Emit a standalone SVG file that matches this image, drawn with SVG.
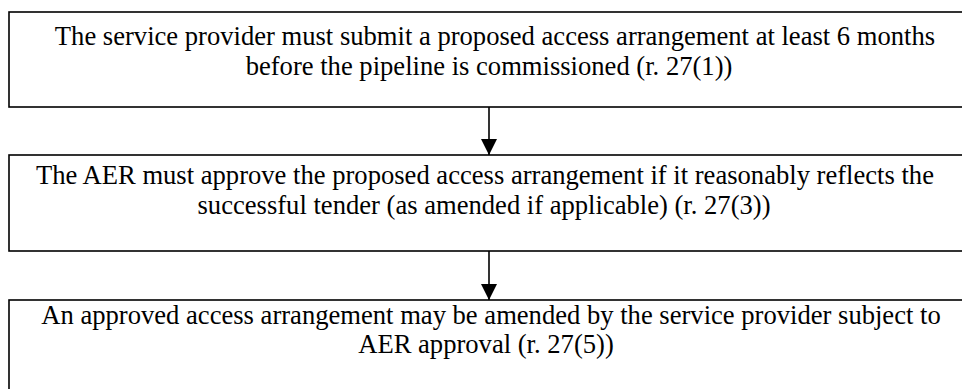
<svg xmlns="http://www.w3.org/2000/svg" width="962" height="389" viewBox="0 0 962 389">
  <style>
    .box { fill: #ffffff; stroke: #000000; stroke-width: 1.6; }
    .lbl { font-family: "Liberation Serif", Tinos, "Times New Roman", Times, "DejaVu Serif", serif; font-size: 26.6px; fill: #000000; text-anchor: middle; }
    .edge { stroke: #000000; stroke-width: 1.6; fill: none; }
  </style>
  <defs>
    <marker id="arrow" viewBox="0 0 16 17" refX="16" refY="8" markerWidth="16" markerHeight="17" markerUnits="userSpaceOnUse" orient="auto">
      <path d="M0,0 L16,8 L0,16 Z" fill="#000000"/>
    </marker>
  </defs>
  <rect width="962" height="389" fill="#ffffff"/>

  <g id="connectors">
    <line class="edge" x1="489" y1="107" x2="489" y2="155" marker-end="url(#arrow)"/>
    <line class="edge" x1="489" y1="251" x2="489" y2="300" marker-end="url(#arrow)"/>
  </g>

  <g id="submit">
    <rect class="box" x="9" y="12" width="960" height="95"/>
    <text class="lbl" x="495" y="45">The service provider must submit a proposed access arrangement at least 6 months</text>
    <text class="lbl" x="489" y="75">before the pipeline is commissioned (r. 27(1))</text>
  </g>

  <g id="approve">
    <rect class="box" x="9" y="155" width="960" height="96"/>
    <text class="lbl" x="485" y="184">The AER must approve the proposed access arrangement if it reasonably reflects the</text>
    <text class="lbl" x="484" y="214">successful tender (as amended if applicable) (r. 27(3))</text>
  </g>

  <g id="amend">
    <rect class="box" x="9" y="300" width="960" height="100"/>
    <text class="lbl" x="491" y="324">An approved access arrangement may be amended by the service provider subject to</text>
    <text class="lbl" x="486" y="353">AER approval (r. 27(5))</text>
  </g>
</svg>
